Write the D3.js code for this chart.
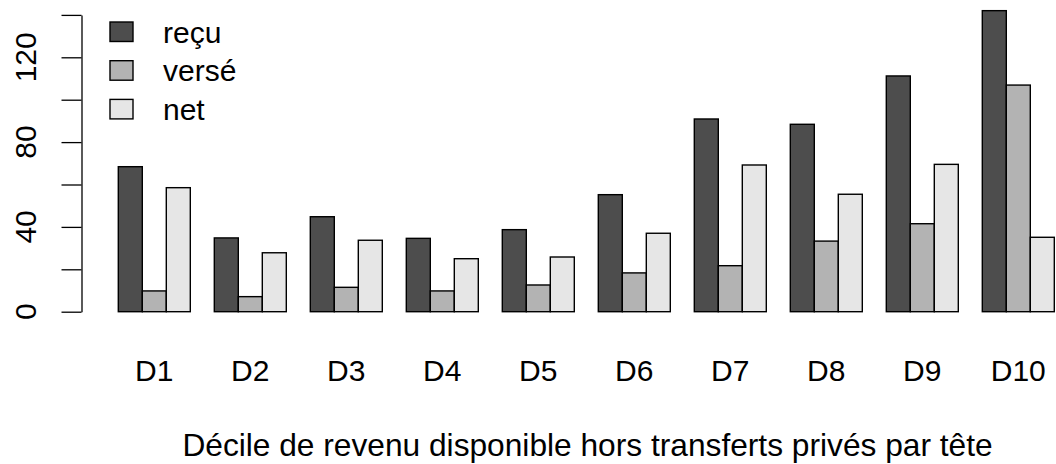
<!DOCTYPE html>
<html lang="fr">
<head>
<meta charset="UTF-8">
<title>Transferts privés par décile</title>
<script src="https://d3js.org/d3.v7.min.js"></script>
<style>
  body { margin: 0; background: #fff; }
  svg { display: block; font-family: "Liberation Sans", Arial, sans-serif; }
  .bar { stroke: #000; stroke-width: 1.4; }
</style>
</head>
<body>
<div id="chart"></div>
<script>
// data
const deciles = ["D1", "D2", "D3", "D4", "D5", "D6", "D7", "D8", "D9", "D10"];
const series = ["reçu", "versé", "net"];
const recu  = [68.4, 34.8, 44.8, 34.6, 38.7, 55.2, 90.9, 88.4, 111.2, 142.0];
const verse = [9.8, 7.1, 11.5, 9.8, 12.6, 18.3, 21.7, 33.3, 41.5, 106.9];
const net   = [58.5, 27.8, 33.7, 25.0, 25.8, 37.0, 69.2, 55.4, 69.5, 35.1];
const colors = ["#4d4d4d", "#b3b3b3", "#e6e6e6"];
const yTicks = [0, 20, 40, 60, 80, 100, 120, 140];
const yLabels = [0, 40, 80, 120];
const xTitle = "Décile de revenu disponible hors transferts privés par tête";

const width = 1056, height = 464;
const values = [recu, verse, net];

const svg = d3.select("#chart").append("svg")
    .attr("width", width)
    .attr("height", height);

// groups: 3 bars wide, one bar gap
const x = d3.scaleBand()
    .domain(deciles)
    .range([94.3, 1078.3])
    .paddingInner(0.25)
    .paddingOuter(0.25);

const xs = d3.scaleBand()
    .domain(series)
    .range([0, x.bandwidth()]);

const y = d3.scaleLinear()
    .domain([0, 140])
    .range([311.7, 14.9]);

const groups = svg.selectAll(".grp")
    .data(deciles)
    .enter().append("g")
    .attr("class", "grp")
    .attr("transform", d => `translate(${x(d)},0)`);

groups.selectAll("rect")
    .data((d, i) => series.map((s, j) => ({ s: s, j: j, v: values[j][i] })))
    .enter().append("rect")
    .attr("class", "bar")
    .attr("x", d => xs(d.s))
    .attr("y", d => y(d.v))
    .attr("width", xs.bandwidth())
    .attr("height", d => y(0) - y(d.v))
    .attr("fill", d => colors[d.j]);

// y axis, R style
const yAxis = svg.append("g")
    .attr("transform", "translate(81.5,0)")
    .call(d3.axisLeft(y).tickValues(yTicks).tickSize(20).tickSizeOuter(0).tickFormat(""));
yAxis.select(".domain").attr("stroke", "#000").attr("stroke-width", 1.3);
yAxis.selectAll(".tick line").attr("stroke", "#000").attr("stroke-width", 1.3);

svg.selectAll(".ylab")
    .data(yLabels)
    .enter().append("text")
    .attr("class", "ylab")
    .attr("transform", d => `translate(36,${y(d)}) rotate(-90)`)
    .attr("text-anchor", "middle")
    .attr("font-size", 30)
    .text(d => d);

// category labels
svg.selectAll(".xlab")
    .data(deciles)
    .enter().append("text")
    .attr("class", "xlab")
    .attr("x", d => x(d) + x.bandwidth() / 2)
    .attr("y", 381)
    .attr("text-anchor", "middle")
    .attr("font-size", 30)
    .text(d => d);

svg.append("text")
    .attr("x", 587.5)
    .attr("y", 456)
    .attr("text-anchor", "middle")
    .attr("font-size", 31.7)
    .text(xTitle);

// legend
const legend = svg.append("g");
const rows = legend.selectAll("g")
    .data(series)
    .enter().append("g")
    .attr("transform", (d, i) => `translate(110,${22 + i * 38.7})`);
rows.append("rect")
    .attr("width", 23)
    .attr("height", 19.5)
    .attr("fill", (d, i) => colors[i])
    .attr("stroke", "#000")
    .attr("stroke-width", 1.4);
rows.append("text")
    .attr("x", 53)
    .attr("y", 20.5)
    .attr("font-size", 30)
    .text(d => d);
</script>
</body>
</html>
